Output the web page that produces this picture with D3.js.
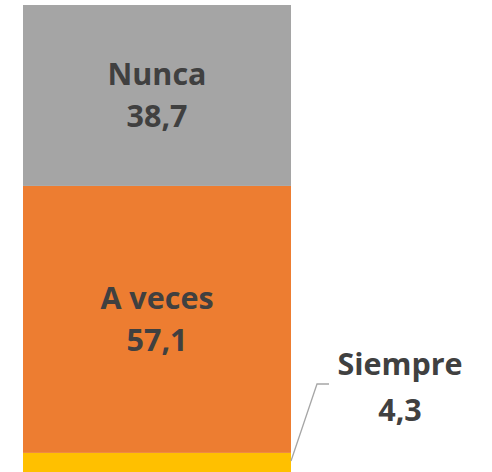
<!DOCTYPE html>
<meta charset="utf-8">
<style>
body{ margin:0; background:#fff; }
text.lbl{
	font-family: "Open Sans", sans-serif;
	font-weight: bold;
	font-size: 30.5px;
	fill: #404040;
	text-anchor: middle;
}
</style>
<body>
<div id="chart"></div>
<script src="https://d3js.org/d3.v7.min.js"></script>
<script>
// barra apilada única: Siempre / A veces / Nunca
var categories = ["Siempre", "A veces", "Nunca"];
var values = [4.3, 57.1, 38.7];
var colors = ["#ffc000", "#ed7d31", "#a5a5a5"];

var width = 492, height = 472;
var svg = d3.select("#chart").append("svg").attr("width", width).attr("height", height);

var total = d3.sum(values);
var y = d3.scaleLinear().domain([0, total]).range([473, 5]);
var x = d3.scaleBand().domain(["total"]).range([23, 291]).padding(0);

var stack = [];
var acc = 0;
values.forEach(function(v, i){
	stack.push({cat: categories[i], v: v, y0: acc, y1: acc + v, color: colors[i]});
	acc += v;
});

svg.selectAll(".seg")
	.data(stack).enter()
	.append("rect").attr("class", "seg")
	.attr("x", x("total"))
	.attr("width", x.bandwidth())
	.attr("y", function(d){ return y(d.y1); })
	.attr("height", function(d){ return y(d.y0) - y(d.y1); })
	.attr("fill", function(d){ return d.color; });

function fmt(v){ return v.toFixed(1).replace(".", ","); }

// etiquetas dentro de las barras grandes
var inside = stack.filter(function(d){ return d.v > 10; });
var g = svg.selectAll(".lab").data(inside).enter().append("g")
	.attr("transform", function(d){
		return "translate(" + (x("total") + x.bandwidth()/2) + "," + ((y(d.y0) + y(d.y1))/2) + ")";
	});
g.append("text").attr("class", "lbl").attr("y", -10).text(function(d){ return d.cat; });
g.append("text").attr("class", "lbl").attr("y", 32).text(function(d){ return fmt(d.v); });

// etiqueta exterior con línea guía
var small = stack.filter(function(d){ return d.v <= 10; })[0];
var ly = (y(small.y0) + y(small.y1))/2;
var bx = x("total") + x.bandwidth();
svg.append("polyline")
	.attr("points", [[bx, ly - 2], [317, 384], [329, 384]].map(function(p){ return p.join(","); }).join(" "))
	.attr("fill", "none")
	.attr("stroke", "#a6a6a6")
	.attr("stroke-width", 1.3);
svg.append("text").attr("class", "lbl").attr("x", 400).attr("y", 375).text(small.cat);
svg.append("text").attr("class", "lbl").attr("x", 400).attr("y", 421).text(fmt(small.v));
</script>
</body>
